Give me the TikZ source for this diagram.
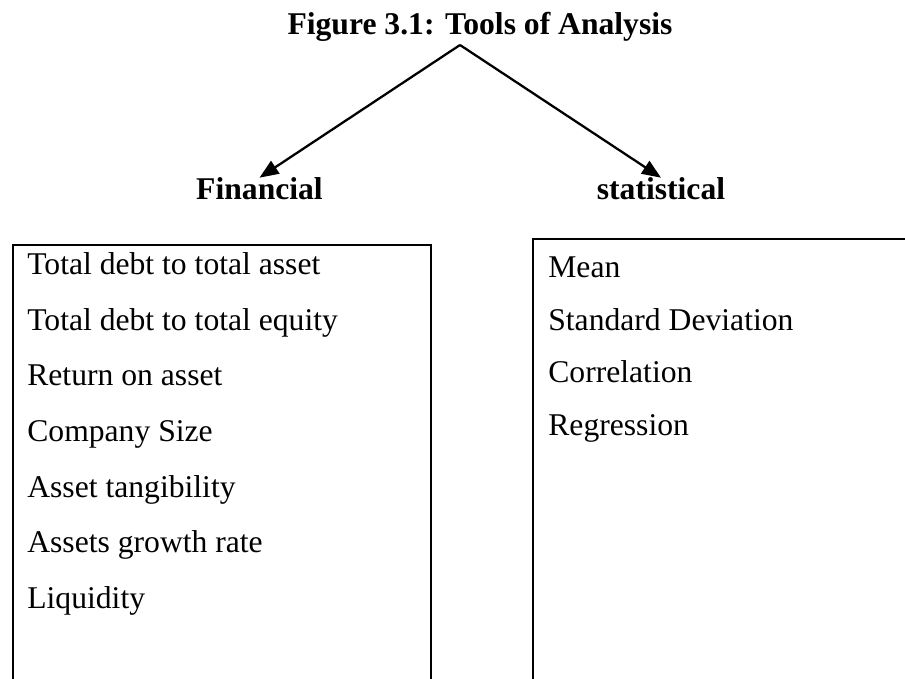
\documentclass[tikz,border=0pt]{standalone}
\usepackage{fontspec}
\setmainfont{Liberation Serif}
\usetikzlibrary{positioning,arrows.meta}

\begin{document}
\begin{tikzpicture}[
    heading/.style={font=\fontsize{18}{22}\selectfont\bfseries, inner sep=0pt, anchor=base},
    listbox/.style={
        rectangle,
        draw=black, line width=1.2pt,
        anchor=north west,
        minimum height=10cm
    },
    item/.style={inner sep=0pt, text height=0.45cm, text depth=0.14cm, anchor=north west},
    arrow/.style={-{Triangle[length=0.38cm,width=0.3cm]}, line width=1.3pt},
    font=\fontsize{18}{22}\selectfont,
    node distance=0.51cm
]
\useasboundingbox (0,0) rectangle (18.1,-13.58);
\clip (0,0) rectangle (18.1,-13.58);

% --- TITLE ---
\node[heading] (title) at (9.6,-0.70) {Figure 3.1: Tools of Analysis};
\coordinate (apex) at (9.2,-0.9);

% --- HEADINGS ---
\node[heading] (fin) at (5.19,-4.0) {Financial};
\node[heading] (stat) at (13.22,-4.0) {statistical};

% --- BOXES (cut by the page at the bottom / right) ---
\node[listbox, minimum width=8.36cm] (finbox) at (0.24,-4.88) {};
\node[listbox, minimum width=9cm] (statbox) at (10.64,-4.76) {};

% --- LEFT LIST ---
\node[item, below right=0.15cm and 0.3cm of finbox.north west] (f1) {Total debt to total asset};
\node[below=of f1.south west, item] (f2) {Total debt to total equity};
\node[below=of f2.south west, item] (f3) {Return on asset};
\node[below=of f3.south west, item] (f4) {Company Size};
\node[below=of f4.south west, item] (f5) {Asset tangibility};
\node[below=of f5.south west, item] (f6) {Assets growth rate};
\node[below=of f6.south west, item] (f7) {Liquidity};

% --- RIGHT LIST ---
\node[item, below right=0.33cm and 0.32cm of statbox.north west] (s1) {Mean};
\node[below=0.45cm of s1.south west, item] (s2) {Standard Deviation};
\node[below=0.45cm of s2.south west, item] (s3) {Correlation};
\node[below=0.45cm of s3.south west, item] (s4) {Regression};

% --- ARROWS ---
% 1. Title -> Financial
\draw[arrow] (apex) -- (fin.north);

% 2. Title -> statistical
\draw[arrow] (apex) -- (stat.north);

\end{tikzpicture}
\end{document}
